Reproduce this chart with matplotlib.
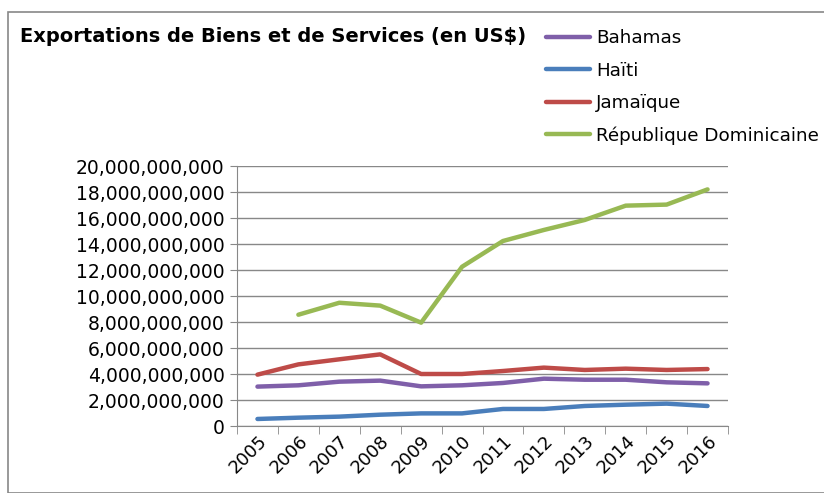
import numpy as np
import matplotlib.pyplot as plt
from matplotlib.ticker import FuncFormatter

# Données
annees = ['2005', '2006', '2007', '2008', '2009', '2010',
          '2011', '2012', '2013', '2014', '2015', '2016']
bahamas = [3.03, 3.13, 3.41, 3.49, 3.05, 3.13, 3.31, 3.64, 3.56, 3.56, 3.36, 3.28]
haiti = [0.54, 0.64, 0.72, 0.87, 0.97, 0.97, 1.31, 1.31, 1.54, 1.64, 1.72, 1.54]
jamaique = [3.95, 4.74, 5.13, 5.51, 4.00, 4.00, 4.23, 4.49, 4.31, 4.41, 4.31, 4.38]
rep_dom = [np.nan, 8.56, 9.48, 9.26, 7.95, 12.25, 14.23, 15.08, 15.85, 16.95, 17.03, 18.2]

series = [('Bahamas', bahamas, '#7f5fa9'),
          ('Haïti', haiti, '#4a7ebb'),
          ('Jamaïque', jamaique, '#be4b48'),
          ('République Dominicaine', rep_dom, '#98b954')]

plt.rcParams['font.family'] = 'DejaVu Sans'

fig = plt.figure(figsize=(8.24, 4.93), dpi=100)
ax = fig.add_axes([237 / 824, 1 - 426 / 493, 491 / 824, 260 / 493])

x = np.arange(len(annees))
lignes = []
for nom, vals, couleur in series:
    l, = ax.plot(x, np.array(vals) * 1e9, color=couleur, lw=3.2,
                 solid_capstyle='round', solid_joinstyle='round')
    lignes.append(l)

ax.set_xlim(-0.5, len(annees) - 0.5)
ax.set_ylim(0, 20e9)
ax.set_yticks(np.arange(0, 20.1e9, 2e9))
ax.yaxis.set_major_formatter(FuncFormatter(lambda v, p: f'{v:,.0f}'))
ax.grid(axis='y', color='#888888', lw=1)
ax.set_axisbelow(True)

ax.set_xticks(x)
ax.set_xticklabels(annees, rotation=45, ha='right', rotation_mode='anchor')
ax.set_xticks(np.arange(-0.5, len(annees), 1), minor=True)
ax.tick_params(axis='x', which='major', length=0, labelsize=13, pad=4)
ax.tick_params(axis='x', which='minor', length=6, color='#888888')
ax.tick_params(axis='y', length=5, color='#888888', labelsize=13.5, pad=4)

for s in ['top', 'right']:
    ax.spines[s].set_visible(False)
for s in ['left', 'bottom']:
    ax.spines[s].set_color('#888888')

fig.text(20 / 824, 1 - 36 / 493, 'Exportations de Biens et de Services (en US$)',
         fontsize=14.0, fontweight='bold', va='center', ha='left')

fig.legend(lignes, [s[0] for s in series], loc='upper left',
           bbox_to_anchor=(539 / 824, 1 - 22 / 493), frameon=False,
           fontsize=13.2, handlelength=2.4, handletextpad=0.3,
           labelspacing=0.78, borderaxespad=0)

# cadre du graphique
cadre = plt.Rectangle((8 / 824, 0.0), 1.2, 1 - 12 / 493, transform=fig.transFigure,
                      fill=False, edgecolor='#888888', lw=1.2)
fig.patches.append(cadre)

fig.savefig('out.png', dpi=100)
